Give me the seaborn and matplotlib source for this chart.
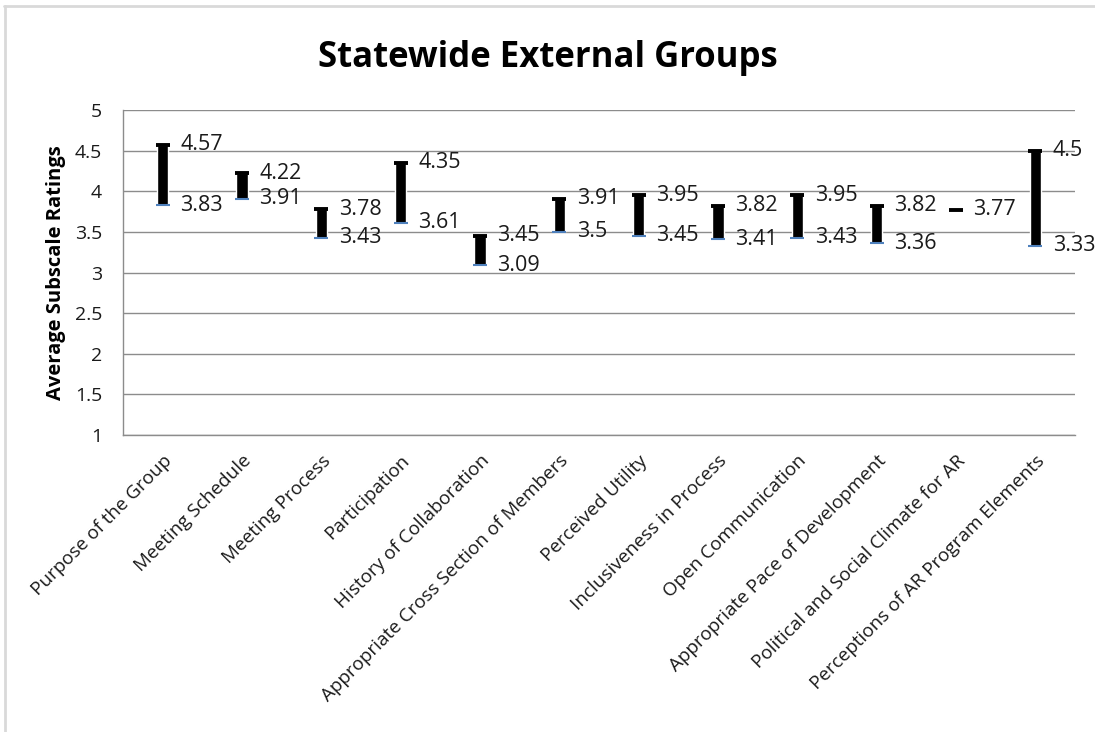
import numpy as np
import matplotlib
matplotlib.use("Agg")
import matplotlib.pyplot as plt
import seaborn as sns

# subscale names and high/low average ratings
categories = [
    "Purpose of the Group",
    "Meeting Schedule",
    "Meeting Process",
    "Participation",
    "History of Collaboration",
    "Appropriate Cross Section of Members",
    "Perceived Utility",
    "Inclusiveness in Process",
    "Open Communication",
    "Appropriate Pace of Development",
    "Political and Social Climate for AR",
    "Perceptions of AR Program Elements",
]
high = [4.57, 4.22, 3.78, 4.35, 3.45, 3.91, 3.95, 3.82, 3.95, 3.82, 3.77, 4.5]
low = [3.83, 3.91, 3.43, 3.61, 3.09, 3.5, 3.45, 3.41, 3.43, 3.36, 3.77, 3.33]
yticks = [1, 1.5, 2, 2.5, 3, 3.5, 4, 4.5, 5]

sns.set_theme(style="white")
plt.rcParams["font.family"] = ["Open Sans", "DejaVu Sans"]

grid_col = "#8c8c8c"
txt_col = "#1a1a1a"

fig = plt.figure(figsize=(10.95, 7.32), dpi=100)
ax = fig.add_axes([0.1123, 0.4057, 0.8694, 0.444])

x = np.arange(len(categories))
high_a = np.array(high)
low_a = np.array(low)

# up/down bars
ax.bar(x, high_a - low_a, bottom=low_a, width=0.14, color="black", zorder=3)
# low markers (blue) and high caps (black)
ax.plot(x, low_a, ls="none", marker="_", ms=9.5, mew=1.5, color="#4f81bd", zorder=4)
ax.plot(x, high_a, ls="none", marker="_", ms=9.5, mew=2.8, color="black", zorder=5)

# value labels
for xi, h, l in zip(x, high, low):
    ax.text(xi + 0.22, h, f"{h:g}", va="center", ha="left", fontsize=15.5, color=txt_col)
    if h != l:
        ax.text(xi + 0.22, l, f"{l:g}", va="center", ha="left", fontsize=15.5, color=txt_col)

ax.set_xlim(-0.5, len(categories) - 0.5)
ax.set_ylim(1, 5)
ax.set_yticks(yticks)
ax.set_yticklabels([f"{t:g}" for t in yticks], fontsize=14, color=txt_col)
ax.yaxis.grid(True, color=grid_col, linewidth=1.0)
ax.set_axisbelow(True)
ax.set_xticks(x)
ax.set_xticklabels(categories, rotation=45, ha="right", rotation_mode="anchor",
                   fontsize=13.6, color=txt_col)
ax.tick_params(axis="x", length=0, pad=12)
ax.tick_params(axis="y", length=0, pad=15)

for side in ["top", "right"]:
    ax.spines[side].set_visible(False)
for side in ["left", "bottom"]:
    ax.spines[side].set_color(grid_col)
    ax.spines[side].set_linewidth(1.0)

ax.set_ylabel("Average Subscale Ratings", fontsize=14.5, fontweight="bold",
              color="black", labelpad=6)

fig.suptitle("Statewide External Groups", fontsize=25, fontweight="bold",
             color="black", x=0.5, y=0.921, va="center")

# light border of the chart area
fig.add_artist(plt.Line2D([4 / 1095, 1], [1 - 6 / 732, 1 - 6 / 732],
                          transform=fig.transFigure, color="#d9d9d9", lw=2))
fig.add_artist(plt.Line2D([5 / 1095, 5 / 1095], [0, 1 - 6 / 732],
                          transform=fig.transFigure, color="#d9d9d9", lw=2))

fig.savefig("out.png", dpi=100)
